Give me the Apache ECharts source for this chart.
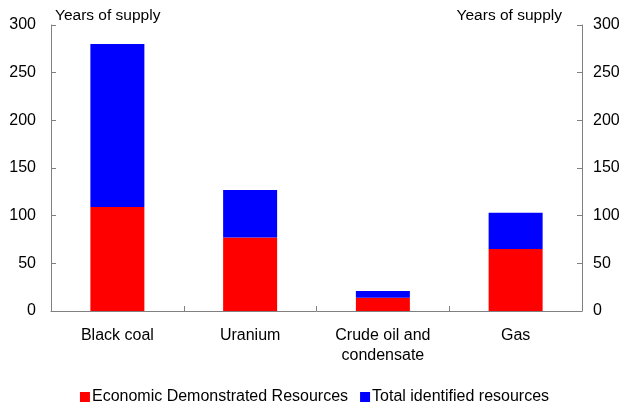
<!DOCTYPE html>
<html><head><meta charset="utf-8">
<script src="https://cdn.jsdelivr.net/npm/echarts@6/dist/echarts.min.js"></script>
<style>html,body{margin:0;padding:0;background:#fff}#c{width:629px;height:415px}</style>
</head><body><div id="c"></div>
<script>
var categories = ['Black coal', 'Uranium', 'Crude oil and\ncondensate', 'Gas'];
var edr = [109, 77, 14, 65];
var totalIdentified = [280, 127, 21, 103];
var yTicks = [0, 50, 100, 150, 200, 250, 300];

var increment = totalIdentified.map(function (t, i) { return t - edr[i]; });
var font = 'Liberation Sans, Arial, sans-serif';
var axisColor = '#808080';
function yAxisDef(pos) {
  return {
    type: 'value', position: pos, min: yTicks[0], max: yTicks[yTicks.length - 1], interval: 50,
    name: 'Years of supply', nameLocation: 'end', nameGap: 9,
    nameTextStyle: { color: '#000', fontFamily: font, fontSize: 15.5, align: pos === 'left' ? 'left' : 'right', verticalAlign: 'middle',
      padding: pos === 'left' ? [0, 0, 0, 4] : [0, 20, 0, 0] },
    axisLine: { show: true, lineStyle: { color: axisColor, width: 1 } },
    axisTick: { show: true, inside: true, length: 5, lineStyle: { color: axisColor } },
    splitLine: { show: false },
    axisLabel: { color: '#000', fontFamily: font, fontSize: 16, margin: pos === 'left' ? 15 : 11 }
  };
}
var chart = echarts.init(document.getElementById('c'), null, { renderer: 'canvas' });
chart.setOption({
  animation: false,
  grid: { left: 51, right: 47, top: 25, bottom: 104 },
  legend: {
    bottom: 5, left: 'center', itemWidth: 10, itemHeight: 10, itemGap: 12,
    icon: 'rect',
    textStyle: { color: '#000', fontFamily: font, fontSize: 16, padding: [0, 0, 0, -3] },
    data: ['Economic Demonstrated Resources', 'Total identified resources']
  },
  xAxis: {
    type: 'category', data: categories,
    axisLine: { lineStyle: { color: axisColor } },
    axisTick: { show: true, inside: true, length: 5, alignWithLabel: false, lineStyle: { color: axisColor } },
    axisLabel: { color: '#000', fontFamily: font, fontSize: 16, margin: 15, lineHeight: 20 }
  },
  yAxis: [yAxisDef('left'), yAxisDef('right')],
  series: [
    { name: 'Economic Demonstrated Resources', type: 'bar', stack: 's', data: edr, barWidth: 54, itemStyle: { color: '#FF0000' } },
    { name: 'Total identified resources', type: 'bar', stack: 's', data: increment, barWidth: 54, itemStyle: { color: '#0000FF' } }
  ]
});
</script></body></html>
